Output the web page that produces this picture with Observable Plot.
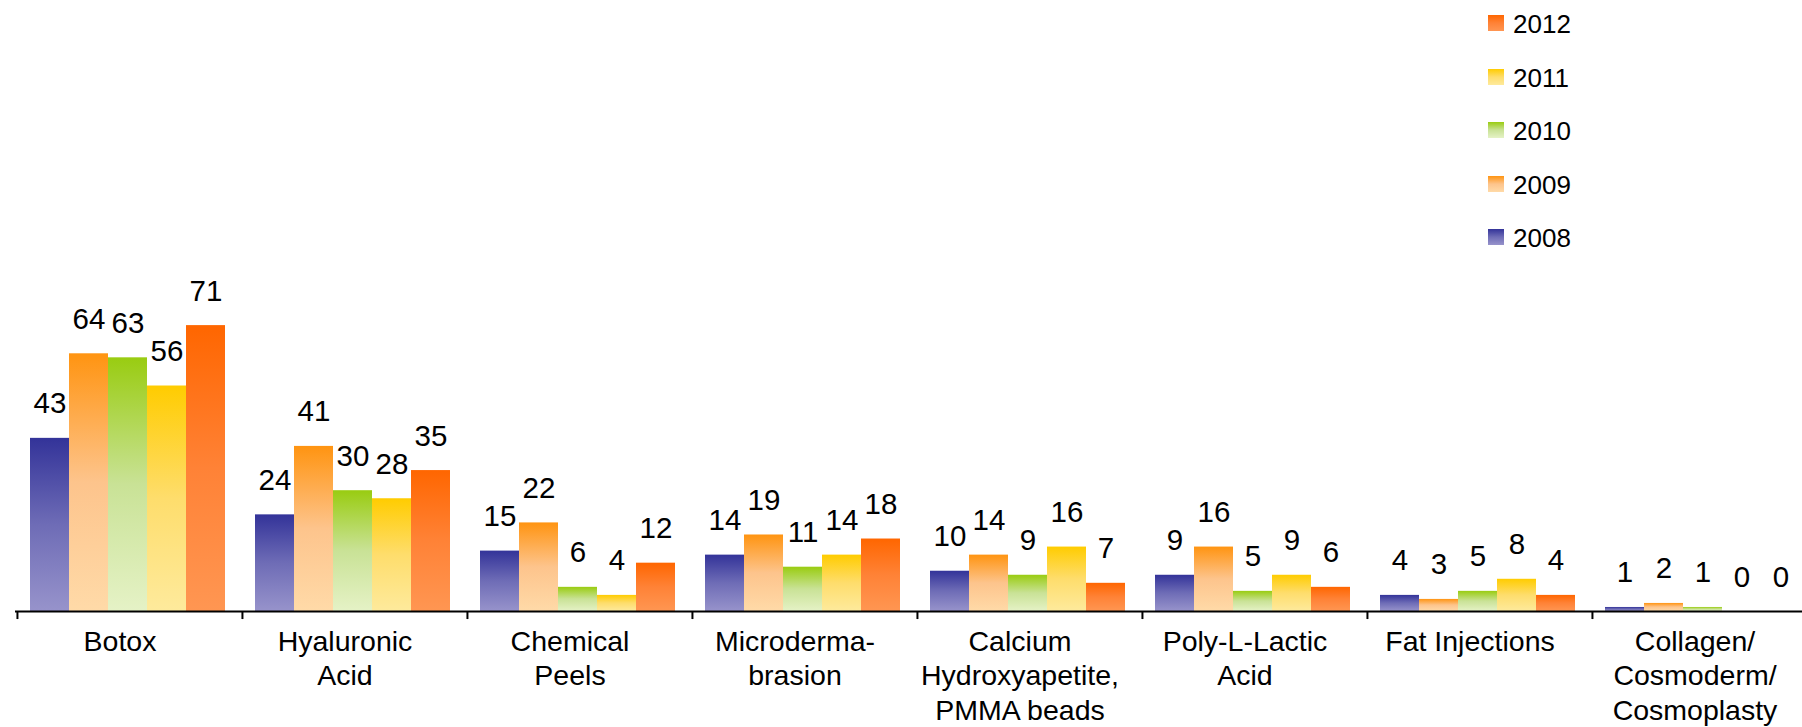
<!DOCTYPE html>
<html>
<head>
<meta charset="utf-8">
<script src="https://cdn.jsdelivr.net/npm/d3@7"></script>
<script src="https://cdn.jsdelivr.net/npm/@observablehq/plot@0.6"></script>
<style>
  html, body { margin: 0; padding: 0; background: #fff; overflow: hidden; }
  #wrap { position: relative; width: 1802px; height: 727px; overflow: hidden; }
  #chart svg { display: block; max-width: none !important; }
  #legend { position: absolute; left: 1488px; top: 15px; font-family: "Liberation Sans", Arial, sans-serif; font-size: 26px; color: #000; }
  #legend .row { display: flex; align-items: center; height: 16px; margin-bottom: 37.5px; }
  #legend .sw { width: 16px; height: 16px; margin-right: 9px; }
  #legend .lab { line-height: 16px; position: relative; top: 1px; }
</style>
</head>
<body>
<div id="wrap"><div id="chart"></div><div id="legend"></div></div>
<script>
// ---- data ----
const categories = ["Botox", "Hyaluronic Acid", "Chemical Peels", "Microdermabrasion",
  "Calcium Hydroxyapetite, PMMA beads", "Poly-L-Lactic Acid", "Fat Injections",
  "Collagen/Cosmoderm/Cosmoplasty"];
const tickLabels = ["Botox", "Hyaluronic\nAcid", "Chemical\nPeels", "Microderma-\nbrasion",
  "Calcium\nHydroxyapetite,\nPMMA beads", "Poly-L-Lactic\nAcid", "Fat Injections",
  "Collagen/\nCosmoderm/\nCosmoplasty"];
const years = ["2008", "2009", "2010", "2011", "2012"];
const v2008 = [43, 24, 15, 14, 10, 9, 4, 1];
const v2009 = [64, 41, 22, 19, 14, 16, 3, 2];
const v2010 = [63, 30, 6, 11, 9, 5, 5, 1];
const v2011 = [56, 28, 4, 14, 16, 9, 8, 0];
const v2012 = [71, 35, 12, 18, 7, 6, 4, 0];
const legendOrder = ["2012", "2011", "2010", "2009", "2008"];
// gradient colours (top, middle, bottom) per year
const gradTop = {"2008": "#333399", "2009": "#ff9411", "2010": "#99cc11", "2011": "#ffcc00", "2012": "#ff6600"};
const gradMid = {"2008": "#6e6cb6", "2009": "#fdc48c", "2010": "#c9e296", "2011": "#fedd6c", "2012": "#ff8236"};
const gradBot = {"2008": "#9793cb", "2009": "#ffdaa8", "2010": "#e5f2c6", "2011": "#feea9c", "2012": "#ff9652"};

const series = {"2008": v2008, "2009": v2009, "2010": v2010, "2011": v2011, "2012": v2012};
const data = [];
categories.forEach((c, i) => years.forEach(y => data.push({category: c, year: y, value: series[y][i]})));
const labelMap = new Map(categories.map((c, i) => [c, tickLabels[i]]));

// ---- layout ----
const width = 1815, marginLeft = 14, marginRight = 0;
const po = 0.314;
const fxStep = (width - marginLeft - marginRight) / categories.length;
const barStep = fxStep / (years.length + 2 * po);
const tickDx = -(po + 0.5) * barStep;
const font = "'Liberation Sans', Arial, sans-serif";

const chart = Plot.plot({
  width, height: 727,
  marginLeft, marginRight, marginTop: 7, marginBottom: 116,
  style: {fontFamily: font, background: "white", color: "black", overflow: "visible", maxWidth: "none"},
  fx: {domain: categories, padding: 0},
  x: {domain: years, paddingInner: 0, paddingOuter: po, axis: null},
  y: {domain: [0, 150], axis: null},
  color: {domain: years, range: years.map(y => `url(#g${y})`)},
  marks: [
    Plot.barY(data, {fx: "category", x: "year", y: "value", fill: "year"}),
    Plot.text(data, {fx: "category", x: "year", y: "value", text: d => String(d.value),
      lineAnchor: "bottom", dy: -25, fontSize: 29.5, fill: "black"}),
    Plot.ruleY([0], {stroke: "black", strokeWidth: 2}),
    Plot.ruleX([years[0]], {x: d => d, y1: 0, y2: -2, dx: tickDx, stroke: "black", strokeWidth: 2}),
    Plot.axisFx({anchor: "bottom", tickSize: 0, tickPadding: 15.5, fontSize: 28.5, lineHeight: 1.2,
      label: null, dx: -8, fill: "black", tickFormat: d => labelMap.get(d)})
  ]
});

// gradient defs
const ns = "http://www.w3.org/2000/svg";
const defs = document.createElementNS(ns, "defs");
years.forEach(y => {
  const lg = document.createElementNS(ns, "linearGradient");
  lg.setAttribute("id", "g" + y);
  lg.setAttribute("x1", "0"); lg.setAttribute("y1", "0");
  lg.setAttribute("x2", "0"); lg.setAttribute("y2", "1");
  [[0, gradTop[y]], [0.5, gradMid[y]], [1, gradBot[y]]].forEach(([o, c]) => {
    const s = document.createElementNS(ns, "stop");
    s.setAttribute("offset", o);
    s.setAttribute("stop-color", c);
    lg.appendChild(s);
  });
  defs.appendChild(lg);
});
chart.insertBefore(defs, chart.firstChild);
document.getElementById("chart").appendChild(chart);

// legend
const leg = document.getElementById("legend");
legendOrder.forEach(y => {
  const row = document.createElement("div");
  row.className = "row";
  const sw = document.createElement("div");
  sw.className = "sw";
  sw.style.background = `linear-gradient(to bottom, ${gradTop[y]}, ${gradMid[y]}, ${gradBot[y]})`;
  const lab = document.createElement("span");
  lab.className = "lab";
  lab.textContent = y;
  row.appendChild(sw); row.appendChild(lab);
  leg.appendChild(row);
});
</script>
</body>
</html>
